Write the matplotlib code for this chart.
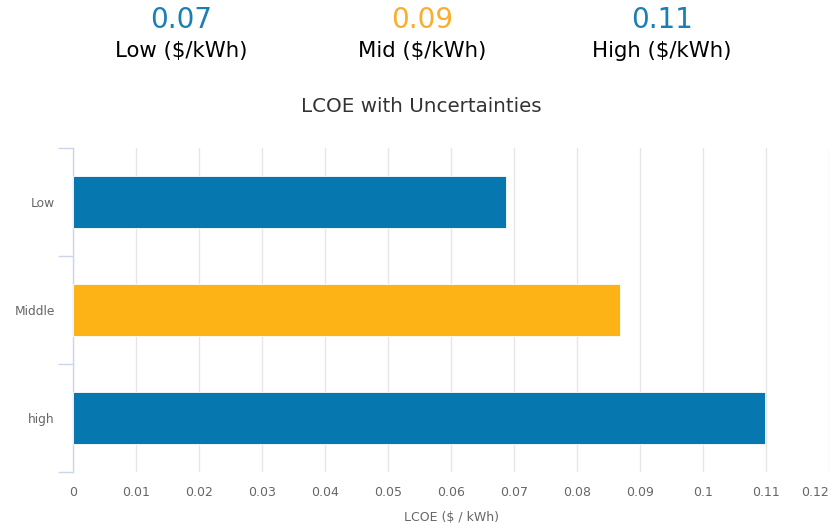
import matplotlib
matplotlib.use("Agg")
import matplotlib.pyplot as plt
from matplotlib.ticker import FixedLocator

categories = ["Low", "Middle", "high"]
values = [0.0688, 0.0868, 0.1099]
bar_colors = ["#0777b0", "#fdb315", "#0777b0"]

header_values = ["0.07", "0.09", "0.11"]
header_labels = ["Low ($/kWh)", "Mid ($/kWh)", "High ($/kWh)"]
header_colors = ["#1a7fb5", "#fbae2c", "#1a7fb5"]

xticks = [0, 0.01, 0.02, 0.03, 0.04, 0.05, 0.06, 0.07, 0.08, 0.09, 0.1, 0.11, 0.12]
xtick_labels = ["0", "0.01", "0.02", "0.03", "0.04", "0.05", "0.06", "0.07", "0.08",
                "0.09", "0.1", "0.11", "0.12"]

plt.rcParams['font.family'] = ['DejaVu Sans']

W, H = 833, 528
fig = plt.figure(figsize=(W / 100, H / 100), dpi=100)
ax = fig.add_axes([73 / W, 1 - 472 / H, (829 - 73) / W, (472 - 148) / H])

ypos = list(range(len(categories)))
ax.barh(ypos, values, height=0.48, color=bar_colors, edgecolor="#ffffff",
        linewidth=0.6, zorder=3)
ax.set_ylim(len(categories) - 0.5, -0.5)
ax.set_xlim(0, 0.12)

ax.set_yticks(ypos)
ax.set_yticklabels(categories, fontsize=8.8, color="#666666")
ax.yaxis.set_minor_locator(FixedLocator([-0.5, 0.5, 1.5, 2.5]))
ax.tick_params(axis="y", which="major", length=0, pad=13)
ax.tick_params(axis="y", which="minor", length=11, color="#ccd6eb", width=1)

ax.set_xticks(xticks)
ax.set_xticklabels(xtick_labels, fontsize=9, color="#666666")
ax.get_xticklabels()[-1].set_horizontalalignment("right")
ax.tick_params(axis="x", length=0, pad=10)
ax.grid(axis="x", color="#e6e6e6", linewidth=1, zorder=0)

for s in ["top", "right", "bottom"]:
    ax.spines[s].set_visible(False)
ax.spines["left"].set_color("#ccd6eb")
ax.spines["left"].set_linewidth(1)

ax.set_xlabel("LCOE ($ / kWh)", fontsize=9, color="#666666", labelpad=9)

hx = [181, 422, 662]
for x, v, l, c in zip(hx, header_values, header_labels, header_colors):
    fig.text(x / W, 1 - 20 / H, v, ha="center", va="center", fontsize=20, color=c)
    fig.text(x / W, 1 - 51 / H, l, ha="center", va="center", fontsize=15.3, color="#000000")

fig.text(421 / W, 1 - 107 / H, "LCOE with Uncertainties", ha="center", va="center",
         fontsize=14.3, color="#333333")

fig.savefig("out.png", dpi=100)
